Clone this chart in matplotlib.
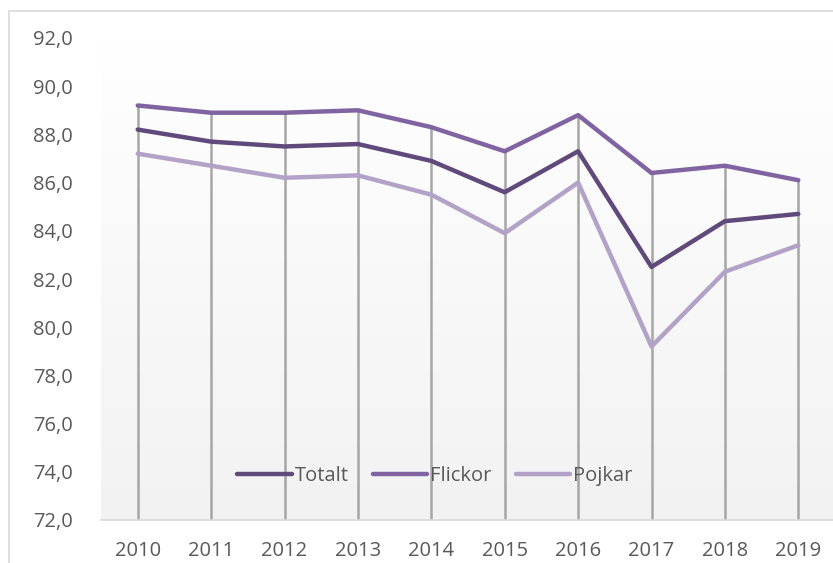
import numpy as np
import matplotlib
matplotlib.use("Agg")
import matplotlib.pyplot as plt
from matplotlib.patches import Rectangle
from matplotlib.colors import LinearSegmentedColormap

years = ["2010", "2011", "2012", "2013", "2014", "2015", "2016", "2017", "2018", "2019"]
totalt = [88.2, 87.7, 87.5, 87.6, 86.9, 85.6, 87.3, 82.5, 84.4, 84.7]
flickor = [89.2, 88.9, 88.9, 89.0, 88.3, 87.3, 88.8, 86.4, 86.7, 86.1]
pojkar = [87.2, 86.7, 86.2, 86.3, 85.5, 83.9, 86.0, 79.2, 82.3, 83.4]
y_ticks = [72, 74, 76, 78, 80, 82, 84, 86, 88, 90, 92]

plt.rcParams["font.family"] = ["Open Sans", "DejaVu Sans"]
text_color = "#595959"
fs = 14.5

W, H = 833, 563
fig = plt.figure(figsize=(W / 100, H / 100), dpi=100)

# chart-area border
fig.patches.append(Rectangle((9 / W, -0.1), 1.2, 1 - 11 / H + 0.1, transform=fig.transFigure,
                             fill=False, edgecolor="#d9d9d9", linewidth=1.2))

left, right, bottom, top = 101, 835, 520, 38
ax = fig.add_axes([left / W, 1 - bottom / H, (right - left) / W, (bottom - top) / H])

x = np.arange(len(years))
ax.set_xlim(-0.5, len(years) - 0.5)
ax.set_ylim(72, 92)

# plot-area gradient, white at the top fading to light grey
grad = np.linspace(0, 1, 256).reshape(-1, 1)
cmap = LinearSegmentedColormap.from_list("bg", ["#ffffff", "#f2f2f2"])
ax.imshow(grad, extent=[-0.5, len(years) - 0.5, 72, 92], origin="upper", aspect="auto",
          cmap=cmap, zorder=0)

# drop lines
tops = np.max(np.vstack([totalt, flickor, pojkar]), axis=0)
ax.vlines(x, 72, tops, color="#a6a6a6", linewidth=1.8, zorder=1)

series = [("Totalt", totalt, "#604a7b"), ("Flickor", flickor, "#8064a2"), ("Pojkar", pojkar, "#b3a2c7")]
for name, vals, col in series:
    ax.plot(x, vals, color=col, linewidth=3.2, label=name, solid_capstyle="round", zorder=3)

for s in ["left", "right", "top"]:
    ax.spines[s].set_visible(False)
ax.spines["bottom"].set_color("#d9d9d9")
ax.spines["bottom"].set_linewidth(1.2)

ax.set_xticks(x)
ax.set_xticklabels(years)
ax.set_yticks(y_ticks)
ax.set_yticklabels([f"{v:.1f}".replace(".", ",") for v in y_ticks])
ax.tick_params(axis="both", length=0, labelsize=fs, colors=text_color)
ax.tick_params(axis="x", pad=15)
ax.tick_params(axis="y", pad=20)

leg = ax.legend(loc="center", bbox_to_anchor=(0.455, 0.091), ncol=3, frameon=False,
                handlelength=2.7, handletextpad=0.15, columnspacing=1.2, fontsize=fs)
for t in leg.get_texts():
    t.set_color(text_color)

fig.savefig("out.png", dpi=100)
